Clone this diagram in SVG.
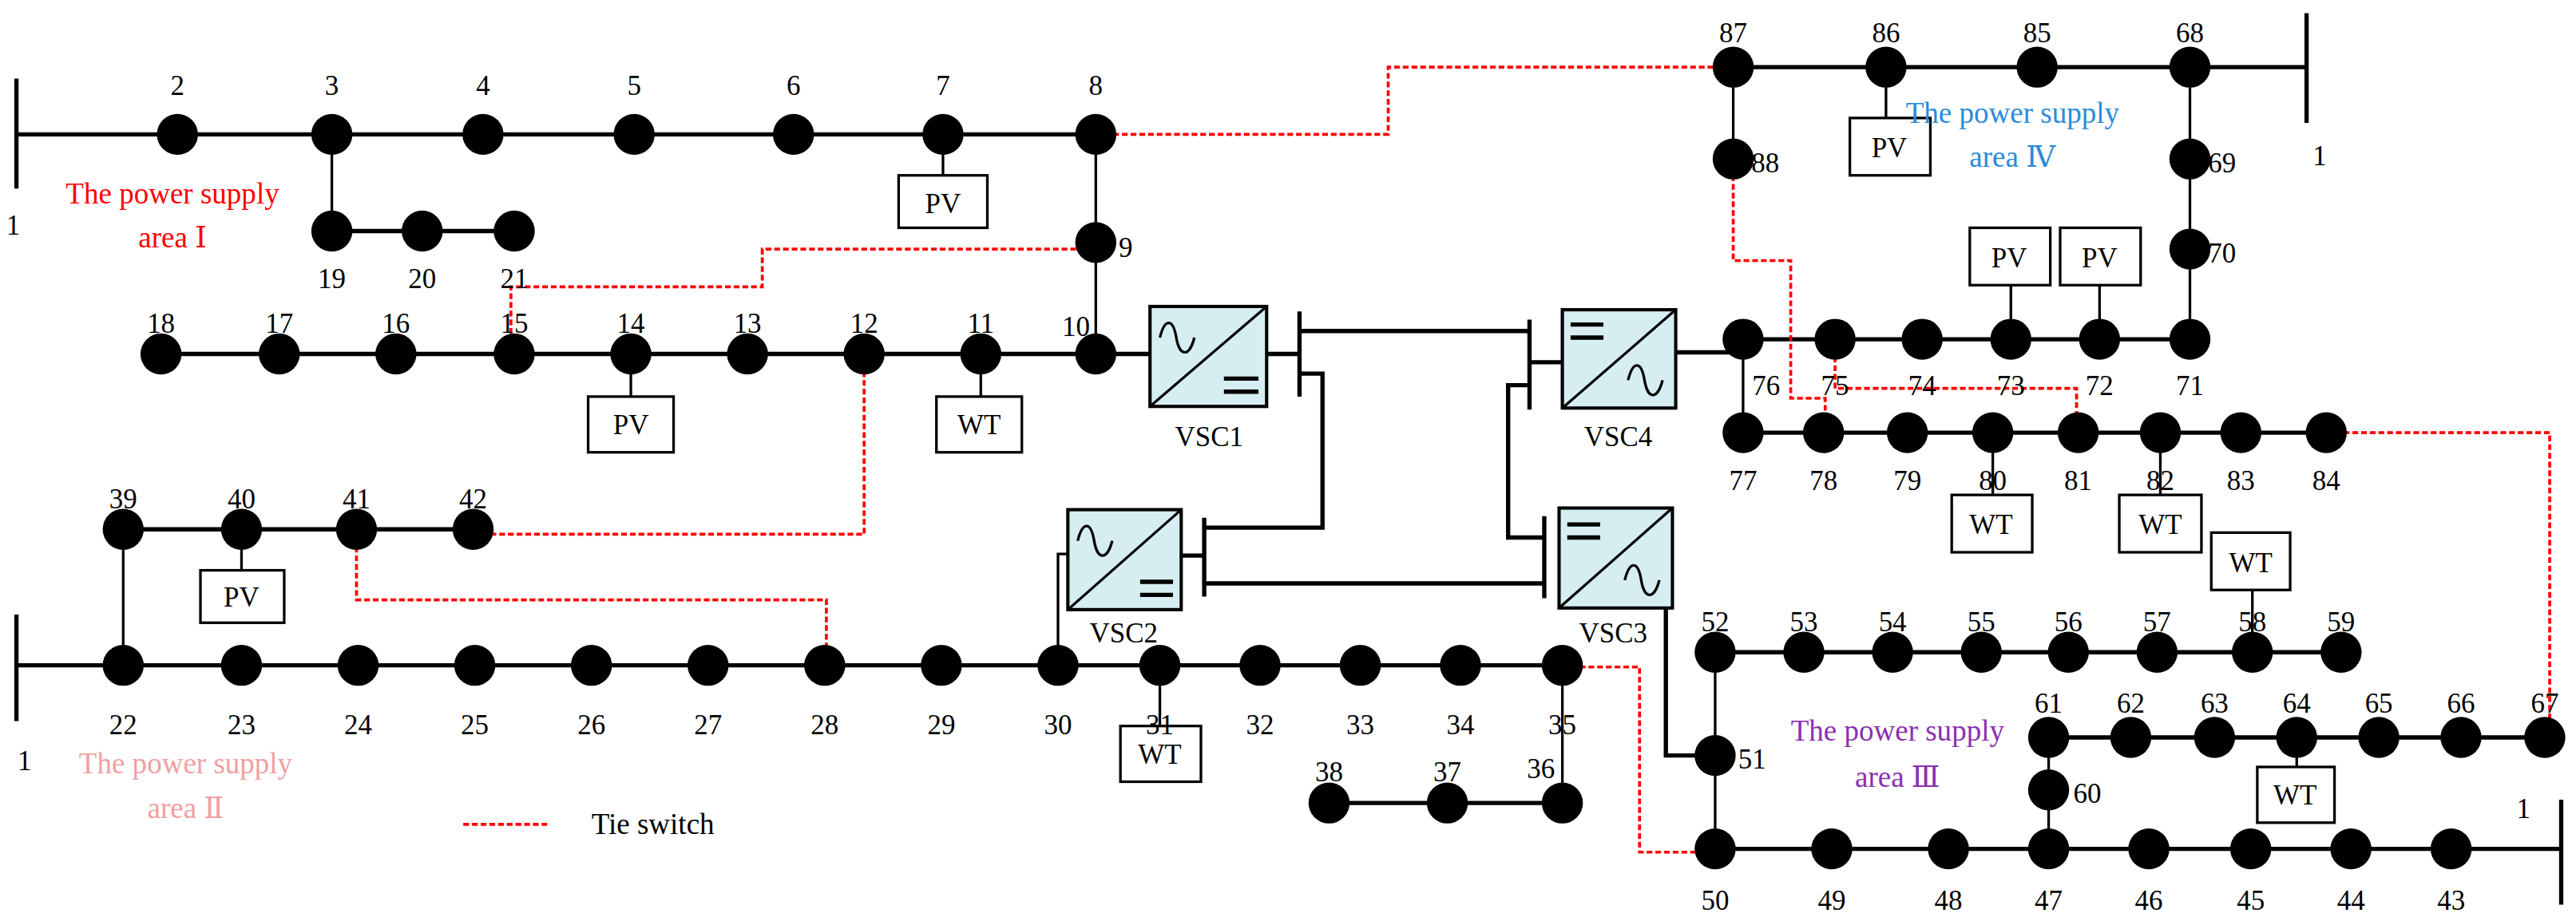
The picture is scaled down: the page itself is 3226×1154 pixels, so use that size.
<svg xmlns="http://www.w3.org/2000/svg" width="3226" height="1154" viewBox="0 0 3226 1154">
<style>
.n{fill:#000}
.bus{stroke:#000;stroke-width:2.6;fill:none}
.br{stroke:#000;stroke-width:1.6;fill:none}
.tie{stroke:#f00;stroke-width:1.8;fill:none;stroke-dasharray:3.5,1.8}
.box{fill:#fff;stroke:#000;stroke-width:1.6}
.vsc{fill:#d6eef2;stroke:#000;stroke-width:2}
text{font-family:"Liberation Serif","DejaVu Serif",serif;font-size:17px;fill:#000;text-anchor:middle}
.l{text-anchor:start}
.a{font-size:18px}
</style>
<rect width="3226" height="1154" fill="#fff"/>
<g transform="scale(2.0574,2.0534)">
<g id="connectors">
<path class="bus" d="M10 82H667M10 48V115M98 216H700M10 406H951M10 375V440M75 323H288M809 490H951M1061 207H1333M1061 264H1416M1044 398H1425M1247 450H1559M1044 518H1559M1559 488V552M1055 41H1404M1404 8V75M202 141H313"/>
<path class="br" d="M202 82V141M574 82V107M667 82V216M384 216V242M597 216V242M75 323V406M147 323V348M644 406V338H650M706 406V443M951 406V490M1055 41V97M1148 41V72M1333 41V207M1224 207V174M1278 207V174M1061 207V264M1213 264V302M1315 264V302M1044 398V518M1247 450V518M1398 450V468M1371 398V360"/>
<path class="bus" d="M771 216H791M791 190V242M791 202H931M931 195V250M931 221H951M1020 215H1061M791 228H805V322H733M733 316V364M719 339H733M733 356H940M940 315V365M940 328H918V235H931M1014 371V461H1044"/>
<path class="tie" d="M667 82H845V41H1055M655 152H464V175H311V207M526 216V326H300M217 323V366H503V395M1055 107V159H1090V243H1111V252M1117 207V237H1264V252M1416 264H1552V440M951 407H998V520H1032"/>
</g>
<g id="sources">
<rect class="box" x="547" y="107" width="54" height="32"/><text x="574" y="130">PV</text>
<rect class="box" x="358" y="242" width="52" height="34"/><text x="384" y="265">PV</text>
<rect class="box" x="570" y="242" width="52" height="34"/><text x="596" y="265">WT</text>
<rect class="box" x="122" y="348" width="51" height="32"/><text x="147" y="370">PV</text>
<rect class="box" x="682" y="443" width="49" height="34"/><text x="706" y="466">WT</text>
<rect class="box" x="1126" y="72" width="49" height="35"/><text x="1150" y="96">PV</text>
<rect class="box" x="1199" y="139" width="49" height="35"/><text x="1223" y="163">PV</text>
<rect class="box" x="1254" y="139" width="49" height="35"/><text x="1278" y="163">PV</text>
<rect class="box" x="1188" y="302" width="49" height="35"/><text x="1212" y="326">WT</text>
<rect class="box" x="1290" y="302" width="50" height="35"/><text x="1315" y="326">WT</text>
<rect class="box" x="1346" y="325" width="48" height="35"/><text x="1370" y="349">WT</text>
<rect class="box" x="1374" y="468" width="47" height="34"/><text x="1397" y="491">WT</text>
</g>
<g id="vsc">
<rect class="vsc" x="700" y="187" width="71" height="61"/><path class="br" stroke-width="2" d="M700 248L771 187M706 206C709 194 714 194 716 206S724 218 727 206"/><path class="bus" stroke-width="3" d="M745 231H766M745 239H766"/><text x="736" y="272">VSC1</text>
<rect class="vsc" x="650" y="311" width="69" height="61"/><path class="br" stroke-width="2" d="M650 372L719 311M656 330C659 318 664 318 666 330S674 342 677 330"/><path class="bus" stroke-width="3" d="M694 355H714M694 363H714"/><text x="684" y="392">VSC2</text>
<rect class="vsc" x="951" y="189" width="69" height="60"/><path class="br" stroke-width="2" d="M951 249L1020 189M991 232C994 220 999 220 1001 232S1009 244 1012 232"/><path class="bus" stroke-width="3" d="M956 198H976M956 206H976"/><text x="985" y="272">VSC4</text>
<rect class="vsc" x="949" y="310" width="69" height="61"/><path class="br" stroke-width="2" d="M949 371L1018 310M989 354C992 342 997 342 999 354S1007 366 1010 354"/><path class="bus" stroke-width="3" d="M954 320H974M954 328H974"/><text x="982" y="392">VSC3</text>
</g>
<g id="nodes" class="n">
<circle cx="108" cy="82" r="12.5"/><circle cx="202" cy="82" r="12.5"/><circle cx="294" cy="82" r="12.5"/><circle cx="386" cy="82" r="12.5"/><circle cx="483" cy="82" r="12.5"/><circle cx="574" cy="82" r="12.5"/><circle cx="667" cy="82" r="12.5"/>
<circle cx="202" cy="141" r="12.5"/><circle cx="257" cy="141" r="12.5"/><circle cx="313" cy="141" r="12.5"/><circle cx="667" cy="148" r="12.5"/>
<circle cx="98" cy="216" r="12.5"/><circle cx="170" cy="216" r="12.5"/><circle cx="241" cy="216" r="12.5"/><circle cx="313" cy="216" r="12.5"/><circle cx="384" cy="216" r="12.5"/><circle cx="455" cy="216" r="12.5"/><circle cx="526" cy="216" r="12.5"/><circle cx="597" cy="216" r="12.5"/><circle cx="667" cy="216" r="12.5"/>
<circle cx="75" cy="323" r="12.5"/><circle cx="147" cy="323" r="12.5"/><circle cx="217" cy="323" r="12.5"/><circle cx="288" cy="323" r="12.5"/>
<circle cx="75" cy="406" r="12.5"/><circle cx="147" cy="406" r="12.5"/><circle cx="218" cy="406" r="12.5"/><circle cx="289" cy="406" r="12.5"/><circle cx="360" cy="406" r="12.5"/><circle cx="431" cy="406" r="12.5"/><circle cx="502" cy="406" r="12.5"/><circle cx="573" cy="406" r="12.5"/><circle cx="644" cy="406" r="12.5"/><circle cx="706" cy="406" r="12.5"/><circle cx="767" cy="406" r="12.5"/><circle cx="828" cy="406" r="12.5"/><circle cx="889" cy="406" r="12.5"/><circle cx="951" cy="406" r="12.5"/>
<circle cx="809" cy="490" r="12.5"/><circle cx="881" cy="490" r="12.5"/><circle cx="951" cy="490" r="12.5"/>
<circle cx="1055" cy="41" r="12.5"/><circle cx="1148" cy="41" r="12.5"/><circle cx="1240" cy="41" r="12.5"/><circle cx="1333" cy="41" r="12.5"/><circle cx="1055" cy="97" r="12.5"/><circle cx="1333" cy="97" r="12.5"/><circle cx="1333" cy="152" r="12.5"/>
<circle cx="1061" cy="207" r="12.5"/><circle cx="1117" cy="207" r="12.5"/><circle cx="1170" cy="207" r="12.5"/><circle cx="1224" cy="207" r="12.5"/><circle cx="1278" cy="207" r="12.5"/><circle cx="1333" cy="207" r="12.5"/>
<circle cx="1061" cy="264" r="12.5"/><circle cx="1110" cy="264" r="12.5"/><circle cx="1161" cy="264" r="12.5"/><circle cx="1213" cy="264" r="12.5"/><circle cx="1265" cy="264" r="12.5"/><circle cx="1315" cy="264" r="12.5"/><circle cx="1364" cy="264" r="12.5"/><circle cx="1416" cy="264" r="12.5"/>
<circle cx="1044" cy="398" r="12.5"/><circle cx="1098" cy="398" r="12.5"/><circle cx="1152" cy="398" r="12.5"/><circle cx="1206" cy="398" r="12.5"/><circle cx="1259" cy="398" r="12.5"/><circle cx="1313" cy="398" r="12.5"/><circle cx="1371" cy="398" r="12.5"/><circle cx="1425" cy="398" r="12.5"/>
<circle cx="1044" cy="461" r="12.5"/><circle cx="1247" cy="482" r="12.5"/>
<circle cx="1247" cy="450" r="12.5"/><circle cx="1297" cy="450" r="12.5"/><circle cx="1348" cy="450" r="12.5"/><circle cx="1398" cy="450" r="12.5"/><circle cx="1448" cy="450" r="12.5"/><circle cx="1498" cy="450" r="12.5"/><circle cx="1549" cy="450" r="12.5"/>
<circle cx="1044" cy="518" r="12.5"/><circle cx="1115" cy="518" r="12.5"/><circle cx="1186" cy="518" r="12.5"/><circle cx="1247" cy="518" r="12.5"/><circle cx="1308" cy="518" r="12.5"/><circle cx="1370" cy="518" r="12.5"/><circle cx="1431" cy="518" r="12.5"/><circle cx="1492" cy="518" r="12.5"/>
</g>
<g id="labels">
<text x="108" y="58">2</text><text x="202" y="58">3</text><text x="294" y="58">4</text><text x="386" y="58">5</text><text x="483" y="58">6</text><text x="574" y="58">7</text><text x="667" y="58">8</text>
<text x="8" y="143">1</text>
<text x="202" y="176">19</text><text x="257" y="176">20</text><text x="313" y="176">21</text><text class="l" x="681" y="157">9</text>
<text x="98" y="203">18</text><text x="170" y="203">17</text><text x="241" y="203">16</text><text x="313" y="203">15</text><text x="384" y="203">14</text><text x="455" y="203">13</text><text x="526" y="203">12</text><text x="597" y="203">11</text><text x="655" y="205">10</text>
<text x="75" y="310">39</text><text x="147" y="310">40</text><text x="217" y="310">41</text><text x="288" y="310">42</text>
<text x="75" y="448">22</text><text x="147" y="448">23</text><text x="218" y="448">24</text><text x="289" y="448">25</text><text x="360" y="448">26</text><text x="431" y="448">27</text><text x="502" y="448">28</text><text x="573" y="448">29</text><text x="644" y="448">30</text><text x="706" y="448">31</text><text x="767" y="448">32</text><text x="828" y="448">33</text><text x="889" y="448">34</text><text x="951" y="448">35</text>
<text x="15" y="470">1</text>
<text x="809" y="477">38</text><text x="881" y="477">37</text><text x="938" y="475">36</text>
<text x="1055" y="26">87</text><text x="1148" y="26">86</text><text x="1240" y="26">85</text><text x="1333" y="26">68</text>
<text class="l" x="1066" y="105">88</text><text class="l" x="1344" y="105">69</text><text class="l" x="1344" y="160">70</text><text x="1412" y="101">1</text>
<text x="1075" y="241">76</text><text x="1117" y="241">75</text><text x="1170" y="241">74</text><text x="1224" y="241">73</text><text x="1278" y="241">72</text><text x="1333" y="241">71</text>
<text x="1061" y="299">77</text><text x="1110" y="299">78</text><text x="1161" y="299">79</text><text x="1213" y="299">80</text><text x="1265" y="299">81</text><text x="1315" y="299">82</text><text x="1364" y="299">83</text><text x="1416" y="299">84</text>
<text x="1044" y="385">52</text><text x="1098" y="385">53</text><text x="1152" y="385">54</text><text x="1206" y="385">55</text><text x="1259" y="385">56</text><text x="1313" y="385">57</text><text x="1371" y="385">58</text><text x="1425" y="385">59</text>
<text class="l" x="1058" y="469">51</text><text class="l" x="1262" y="490">60</text>
<text x="1247" y="435">61</text><text x="1297" y="435">62</text><text x="1348" y="435">63</text><text x="1398" y="435">64</text><text x="1448" y="435">65</text><text x="1498" y="435">66</text><text x="1549" y="435">67</text>
<text x="1044" y="555">50</text><text x="1115" y="555">49</text><text x="1186" y="555">48</text><text x="1247" y="555">47</text><text x="1308" y="555">46</text><text x="1370" y="555">45</text><text x="1431" y="555">44</text><text x="1492" y="555">43</text>
<text x="1536" y="499">1</text>
<text class="a" x="105" y="124" style="fill:#f00">The power supply</text><text class="a" x="105" y="151" style="fill:#f00">area Ⅰ</text>
<text class="a" x="1225" y="75" style="fill:#2b8bd9">The power supply</text><text class="a" x="1225" y="102" style="fill:#2b8bd9">area Ⅳ</text>
<text class="a" x="1155" y="452" style="fill:#8a2fb0">The power supply</text><text class="a" x="1155" y="480" style="fill:#8a2fb0">area Ⅲ</text>
<text class="a" x="113" y="472" style="fill:#f0a0a0">The power supply</text><text class="a" x="113" y="499" style="fill:#f0a0a0">area Ⅱ</text>
</g>
<g id="legend">
<path class="tie" d="M282 503H333"/><text class="l a" x="360" y="509">Tie switch</text>
</g>
</g>
</svg>
